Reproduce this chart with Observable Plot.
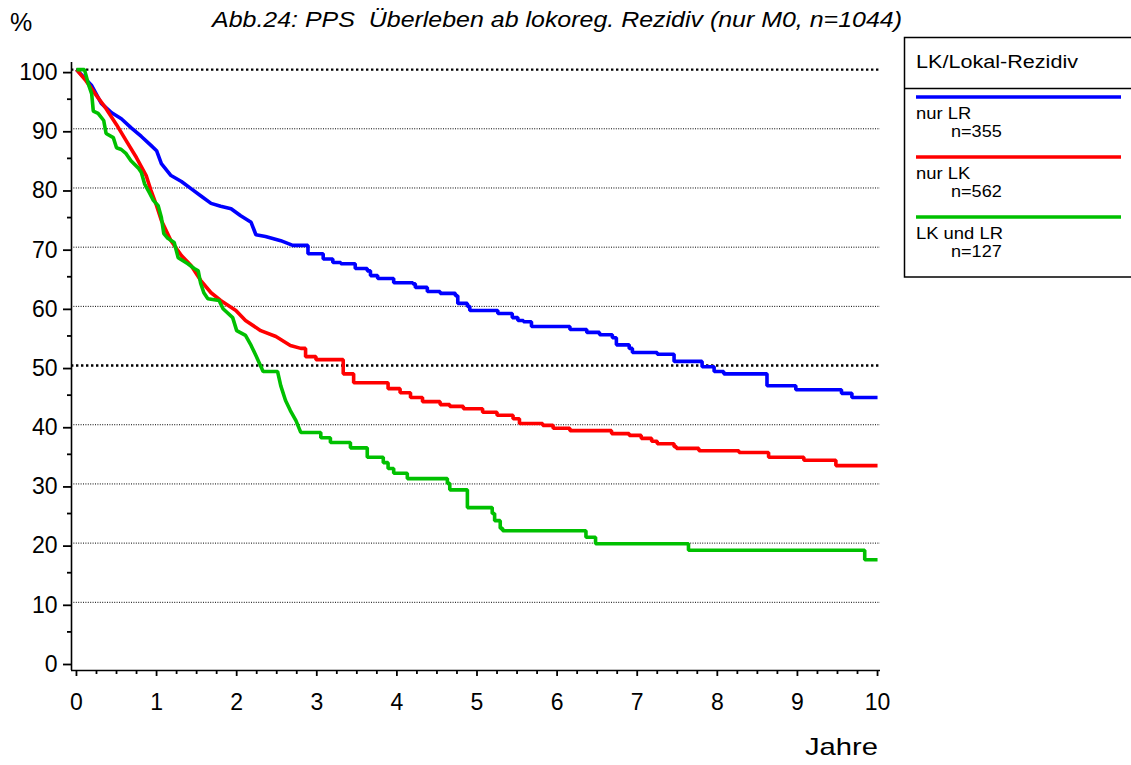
<!DOCTYPE html>
<html>
<head>
<meta charset="utf-8">
<script src="https://cdn.jsdelivr.net/npm/d3@7"></script>
<script src="https://cdn.jsdelivr.net/npm/@observablehq/plot@0.6"></script>
<style>
  html, body { margin: 0; padding: 0; background: #fff; overflow: hidden; }
  #wrap { position: relative; width: 1131px; height: 765px; }
  #wrap svg { font-family: "Liberation Sans", Arial, sans-serif; }
</style>
</head>
<body>
<div id="wrap"></div>
<script>
// ---- Data ----
const titleText = "Abb.24: PPS  Überleben ab lokoreg. Rezidiv (nur M0, n=1044)";
const yUnit = "%";
const xUnit = "Jahre";
const legendTitle = "LK/Lokal-Rezidiv";
const seriesNames = ["nur LR", "nur LK", "LK und LR"];
const seriesN = ["n=355", "n=562", "n=127"];
const seriesColors = ["#0000ff", "#ff0000", "#00c000"];

const xTicks = [0, 1, 2, 3, 4, 5, 6, 7, 8, 9, 10];
const xMinorTicks = [0.25, 0.5, 0.75, 1.25, 1.5, 1.75, 2.25, 2.5, 2.75, 3.25, 3.5, 3.75, 4.25, 4.5, 4.75,
  5.25, 5.5, 5.75, 6.25, 6.5, 6.75, 7.25, 7.5, 7.75, 8.25, 8.5, 8.75, 9.25, 9.5, 9.75];
const yTicks = [0, 10, 20, 30, 40, 50, 60, 70, 80, 90, 100];
const yMinorTicks = [5, 15, 25, 35, 45, 55, 65, 75, 85, 95];
const gridThin = [10, 20, 30, 40, 60, 70, 80, 90];
const gridBold = [50, 100];

// [years, survival %]; points up to "dense" are vertices of the nearly continuous
// early descent, later points are the step drops (value from that time on).
const nurLR = [
  [0,100],[0.19,97.3],[0.31,94.3],[0.44,92.7],[0.56,91.7],[0.68,90.2],[0.81,88.7],[0.93,87.2],
  [1.0,86.3],[1.06,84.1],[1.18,82.1],[1.31,81.1],[1.43,79.9],[1.55,78.7],[1.68,77.4],[1.80,76.9],
  [1.93,76.5],[2.05,75.3],[2.18,74.2],[2.24,72.1],[2.36,71.8],[2.55,71.1],[2.70,70.3],[2.89,68.9],
  [3.08,68.0],[3.20,67.4],[3.30,67.2],[3.48,66.4],[3.63,66.0],[3.67,65.2],[3.76,64.7],[3.96,64.0],
  [4.20,63.8],[4.23,63.2],[4.38,62.5],[4.54,62.2],[4.73,61.8],[4.76,60.5],[4.88,60.0],[4.91,59.3],
  [5.26,58.8],[5.44,58.1],[5.51,57.6],[5.58,57.4],[5.68,56.6],[6.16,56.1],[6.37,55.6],[6.53,55.2],
  [6.69,54.7],[6.74,53.5],[6.90,52.9],[6.94,52.2],[7.25,51.9],[7.46,50.7],[7.81,49.8],[7.96,49.0],
  [8.08,48.6],[8.62,46.6],[8.98,45.9],[9.55,45.3],[9.68,44.6],[10.0,44.6]
];
const nurLK = [
  [0,100],[0.12,98.1],[0.25,95.6],[0.37,93.4],[0.50,90.7],[0.62,88.0],[0.75,85.1],[0.87,82.1],
  [0.93,79.6],[1.0,77.0],[1.06,74.5],[1.18,71.1],[1.31,68.6],[1.43,66.9],[1.55,64.4],[1.68,62.3],
  [1.80,61.0],[1.99,59.3],[2.11,57.6],[2.30,55.9],[2.49,54.9],[2.67,53.4],[2.80,52.9],[2.86,51.5],
  [2.99,51.0],[3.33,48.6],[3.46,47.1],[3.89,46.1],[4.04,45.4],[4.17,44.6],[4.32,43.9],[4.54,43.4],
  [4.66,43.1],[4.83,42.7],[5.07,42.1],[5.25,41.6],[5.45,41.0],[5.53,40.2],[5.82,39.9],[5.95,39.4],
  [6.16,39.0],[6.68,38.5],[6.90,38.2],[7.05,37.7],[7.18,37.2],[7.25,36.8],[7.46,36.3],[7.49,36.0],
  [7.77,35.6],[8.27,35.3],[8.64,34.5],[9.08,34.0],[9.48,33.1],[10.0,33.1]
];
const lkUndLR = [
  [0,100],[0.10,100],[0.15,97.5],[0.19,95.9],[0.21,93.0],[0.27,92.6],[0.34,91.4],[0.37,89.2],
  [0.46,88.5],[0.50,86.8],[0.56,86.5],[0.62,85.8],[0.68,84.6],[0.77,83.4],[0.81,82.6],[0.85,80.7],
  [0.91,79.2],[0.96,77.9],[1.02,77.0],[1.06,75.0],[1.09,72.3],[1.14,71.5],[1.22,70.8],[1.27,68.2],
  [1.33,67.7],[1.39,67.2],[1.47,66.4],[1.52,66.0],[1.55,63.9],[1.59,62.3],[1.64,61.3],[1.78,61.0],
  [1.83,59.6],[1.95,58.1],[2.0,55.9],[2.11,55.1],[2.18,53.4],[2.24,51.7],[2.33,49.0],[2.51,49.0],
  [2.55,46.6],[2.61,44.1],[2.67,42.4],[2.74,40.7],[2.80,38.7],[3.05,37.8],[3.17,37.0],[3.42,36.1],
  [3.63,34.5],[3.83,33.6],[3.89,32.6],[3.96,31.8],[4.13,30.9],[4.63,30.1],[4.66,29.0],[4.88,26.0],
  [5.19,25.0],[5.22,23.8],[5.29,22.5],[5.32,22.1],[6.36,21.0],[6.48,19.9],[7.64,18.8],[9.84,17.2],
  [10.0,17.2]
];
const denseUntil = [2.70, 2.80, 2.80];

// ---- Build vertex table ----
const seriesData = [nurLR, nurLK, lkUndLR];
const rows = [];
seriesData.forEach((arr, i) => {
  let prev = null;
  arr.forEach(([t, s]) => {
    if (prev && t > denseUntil[i]) rows.push({t, s: prev, series: seriesNames[i]});
    rows.push({t, s, series: seriesNames[i]});
    prev = s;
  });
});

const xDomain = [-0.062, 10.037];
const yDomain = [-1.52, 101.2];

const chart = Plot.plot({
  width: 1131,
  height: 765,
  marginLeft: 71,
  marginRight: 251,
  marginTop: 62,
  marginBottom: 95,
  style: {fontFamily: "Liberation Sans, Arial, sans-serif", background: "white", color: "black"},
  x: {domain: xDomain},
  y: {domain: yDomain},
  color: {domain: seriesNames, range: seriesColors},
  marks: [
    Plot.ruleY(gridThin, {stroke: "black", strokeWidth: 1, strokeDasharray: "1,1.4"}),
    Plot.ruleY(gridBold, {stroke: "black", strokeWidth: 2.4, strokeDasharray: "2.4,2.6"}),
    Plot.ruleX([xDomain[0]], {stroke: "black", strokeWidth: 1.6}),
    Plot.ruleY([yDomain[0]], {stroke: "black", strokeWidth: 1.6}),
    Plot.axisY({ticks: yTicks, tickSize: 8, tickPadding: 6, fontSize: 23, label: null, stroke: "black", strokeWidth: 1.8, dy: 3}),
    Plot.axisY({ticks: yMinorTicks, tickSize: 4, tickFormat: () => "", label: null, stroke: "black", strokeWidth: 1.8}),
    Plot.axisX({ticks: xTicks, tickSize: 6, tickPadding: 17, fontSize: 23, label: null, stroke: "black", strokeWidth: 1.8}),
    Plot.axisX({ticks: xMinorTicks, tickSize: 4, tickFormat: () => "", label: null, stroke: "black", strokeWidth: 1.8}),
    Plot.line(rows, {x: "t", y: "s", stroke: "series", z: "series", curve: "linear", strokeWidth: 3.6, strokeLinejoin: "miter", strokeLinecap: "butt"})
  ]
});

const wrap = document.getElementById("wrap");
wrap.appendChild(chart);

// ---- Overlay: title, units, legend ----
const ov = d3.select(wrap).append("svg")
  .attr("width", 1131).attr("height", 765)
  .style("position", "absolute").style("left", 0).style("top", 0)
  .style("font-family", "'Liberation Sans', Arial, sans-serif");

function fitText(sel, targetWidth) {
  sel.attr("textLength", targetWidth).attr("lengthAdjust", "spacingAndGlyphs");
}

const title = ov.append("text").attr("x", 212).attr("y", 27)
  .attr("font-size", 22).attr("font-style", "italic")
  .attr("xml:space", "preserve").style("white-space", "pre").text(titleText);
fitText(title, 690);

ov.append("text").attr("x", 10).attr("y", 31).attr("font-size", 25).text(yUnit);

const jahre = ov.append("text").attr("x", 805).attr("y", 755).attr("font-size", 24).text(xUnit);
fitText(jahre, 73);

// legend box
const lg = ov.append("g");
lg.append("rect").attr("x", 904.5).attr("y", 37.5).attr("width", 240).attr("height", 239.5)
  .attr("fill", "white").attr("stroke", "black").attr("stroke-width", 1.5);
lg.append("line").attr("x1", 904).attr("x2", 1131).attr("y1", 88.5).attr("y2", 88.5)
  .attr("stroke", "black").attr("stroke-width", 1.5);
const lh = lg.append("text").attr("x", 916).attr("y", 68).attr("font-size", 18).text(legendTitle);
fitText(lh, 162);

seriesNames.forEach((name, i) => {
  const y0 = 97 + 60 * i;
  lg.append("line").attr("x1", 916).attr("x2", 1121).attr("y1", y0).attr("y2", y0)
    .attr("stroke", seriesColors[i]).attr("stroke-width", 3.5);
  lg.append("g").attr("transform", `translate(916,${y0 + 22}) scale(1.15,1)`)
    .append("text").attr("font-size", 16).text(name);
  lg.append("g").attr("transform", `translate(951,${y0 + 40}) scale(1.13,1)`)
    .append("text").attr("font-size", 16).text(seriesN[i]);
});
</script>
</body>
</html>
